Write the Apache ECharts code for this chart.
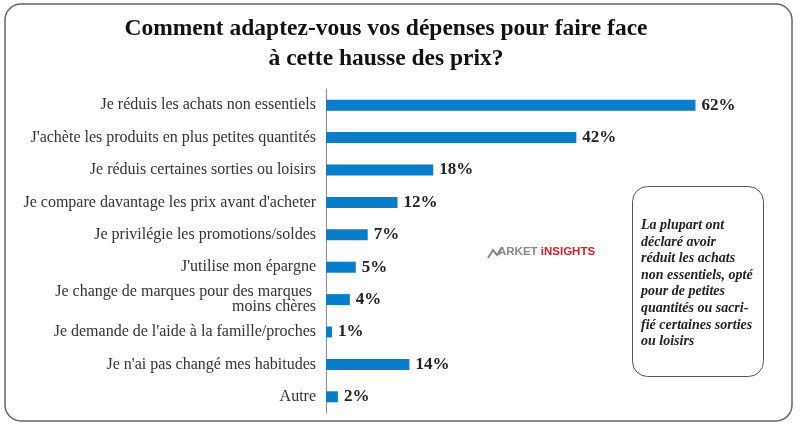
<!DOCTYPE html>
<html>
<head>
<meta charset="utf-8">
<script src="https://cdn.jsdelivr.net/npm/echarts@6/dist/echarts.min.js"></script>
<style>html,body{margin:0;padding:0;background:#fff}#c{width:800px;height:426px}</style>
</head>
<body>
<div id="c"></div>
<script>
var titleLines = ["Comment adaptez-vous vos dépenses pour faire face", "à cette hausse des prix?"];
var categories = [
  "Je réduis les achats non essentiels",
  "J'achète les produits en plus petites quantités",
  "Je réduis certaines sorties ou loisirs",
  "Je compare davantage les prix avant d'acheter",
  "Je privilégie les promotions/soldes",
  "J'utilise mon épargne",
  "Je change de marques pour des marques \nmoins chères",
  "Je demande de l'aide à la famille/proches",
  "Je n'ai pas changé mes habitudes",
  "Autre"
];
var values = [62, 42, 18, 12, 7, 5, 4, 1, 14, 2];
var noteText = "La plupart ont\ndéclaré avoir\nréduit les achats\nnon essentiels, opté\npour de petites\nquantités ou sacri-\nfié certaines sorties\nou loisirs";

var chart = echarts.init(document.getElementById('c'));
chart.setOption({
  backgroundColor: '#fff',
  animation: false,
  grid: {left: 326, right: 27, top: 89, bottom: 13, containLabel: false},
  xAxis: {type: 'value', min: 0, max: 75, show: false},
  yAxis: {
    type: 'category', data: categories, inverse: true,
    axisLine: {show: true, lineStyle: {color: '#888', width: 1}},
    axisTick: {show: false},
    axisLabel: {margin: 10, fontFamily: 'Liberation Serif', fontSize: 16, lineHeight: 15, color: '#333'}
  },
  series: [{
    type: 'bar', data: values, barWidth: 11,
    itemStyle: {color: '#0a7dc9'},
    label: {show: true, position: 'right', distance: 6, formatter: '{c}%',
      fontFamily: 'Liberation Serif', fontWeight: 'bold', fontSize: 17, color: '#222'}
  }],
  graphic: [
    {type: 'rect', shape: {x: 5, y: 4, width: 787, height: 417, r: 16}, style: {fill: 'none', stroke: '#666', lineWidth: 1.5}, z: 0},
    {type: 'text', x: 386, y: 14, z: 11, style: {text: titleLines.join('\n'), textAlign: 'center', fontFamily: 'Liberation Serif', fontWeight: 'bold', fontSize: 23.5, lineHeight: 30, fill: '#111'}},
    {type: 'rect', shape: {x: 632.5, y: 186.5, width: 131, height: 190, r: 15}, style: {fill: '#fff', stroke: '#555', lineWidth: 1}, z: 10},
    {type: 'text', left: 641, top: 217, z: 11, style: {text: noteText, fontFamily: 'Liberation Serif', fontStyle: 'italic', fontWeight: 'bold', fontSize: 14, lineHeight: 16.6, fill: '#222'}},
    {type: 'polyline', z: 11, shape: {points: [[488, 258], [493, 250], [497, 255], [502, 247]]}, style: {stroke: '#888', lineWidth: 2, fill: 'none'}},
    {type: 'text', left: 498, top: 246, z: 11, style: {text: '{a|ARKET }{b|iNSIGHTS}', rich: {
      a: {fontFamily: 'Liberation Sans', fontWeight: 'bold', fontSize: 11.5, fill: '#888'},
      b: {fontFamily: 'Liberation Sans', fontWeight: 'bold', fontSize: 11.5, fill: '#d41f26'}
    }}}
  ]
});
</script>
</body>
</html>
